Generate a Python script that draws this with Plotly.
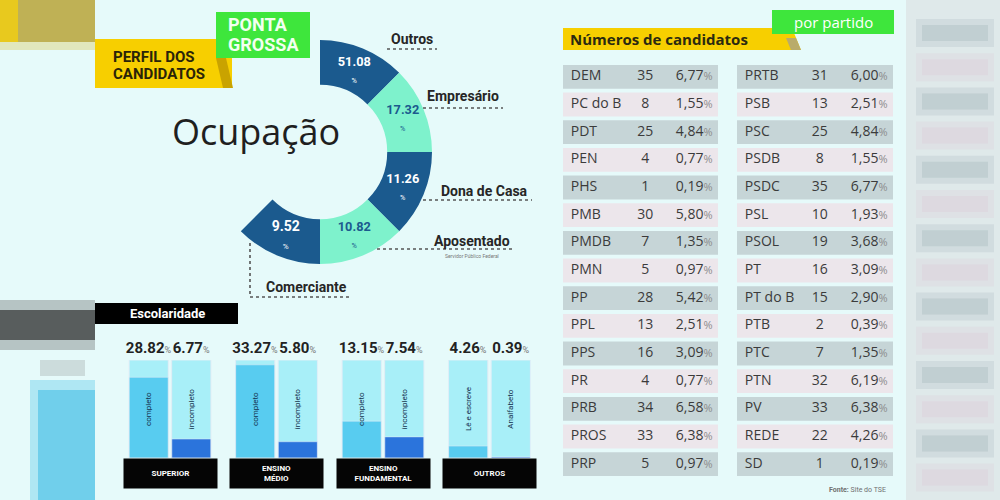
import plotly.graph_objects as go

W, H = 1000, 500


def px(x):
    return x / W


def py(y):
    return 1 - y / H


def path(points):
    s = "M " + " L ".join("%.4f,%.4f" % (px(x), py(y)) for x, y in points)
    return s + " Z"


# ---- Ocupação (anel) ----
occ_labels = ["Outros", "Empresário", "Dona de Casa", "Aposentado", "Comerciante"]
occ_pct = [51.08, 17.32, 11.26, 10.82, 9.52]
# no infográfico as fatias têm todas o mesmo tamanho (5/8 do anel)
ring_slots = [1, 1, 1, 1, 1, 3]

# ---- Escolaridade ----
esc_groups = ["SUPERIOR", "ENSINO<br>MÉDIO", "ENSINO<br>FUNDAMENTAL", "OUTROS"]
esc_a_pct = [28.82, 33.27, 13.15, 4.26]
esc_a_lbl = ["completo", "completo", "completo", "Lê e escreve"]
esc_b_pct = [6.77, 5.80, 7.54, 0.39]
esc_b_lbl = ["incompleto", "incompleto", "incompleto", "Analfabeto"]
TRACK = 35

# ---- Números de candidatos por partido ----
party_l = ["DEM", "PC do B", "PDT", "PEN", "PHS", "PMB", "PMDB", "PMN",
           "PP", "PPL", "PPS", "PR", "PRB", "PROS", "PRP"]
count_l = [35, 8, 25, 4, 1, 30, 7, 5, 28, 13, 16, 4, 34, 33, 5]
pct_l = [6.77, 1.55, 4.84, 0.77, 0.19, 5.80, 1.35, 0.97,
         5.42, 2.51, 3.09, 0.77, 6.58, 6.38, 0.97]
party_r = ["PRTB", "PSB", "PSC", "PSDB", "PSDC", "PSL", "PSOL", "PT",
           "PT do B", "PTB", "PTC", "PTN", "PV", "REDE", "SD"]
count_r = [31, 13, 25, 8, 35, 10, 19, 16, 15, 2, 7, 32, 33, 22, 1]
pct_r = [6.00, 2.51, 4.84, 1.55, 6.77, 1.93, 3.68, 3.09,
         2.90, 0.39, 1.35, 6.19, 6.38, 4.26, 0.19]

BG = "#e6fafa"
DARK = "#1b5a8e"
MINT = "#7ef2cc"
TXT = "#3b3b3b"

fig = go.Figure()

# anel
ring_cols = [DARK, MINT, DARK, MINT, DARK, "rgba(0,0,0,0)"]
ring_txtcol = ["white", DARK, "white", DARK, "white", "white"]
ring_text = ["<b>%.2f</b><br><span style='font-size:8px'>%%</span>" % v for v in occ_pct] + [""]
fig.add_trace(go.Pie(
    values=ring_slots, sort=False, direction="clockwise", rotation=0,
    hole=0.6, marker=dict(colors=ring_cols, line=dict(width=0)),
    text=ring_text, textinfo="text", textposition="inside",
    insidetextorientation="horizontal",
    textfont=dict(family="Roboto", size=14, color=ring_txtcol),
    domain=dict(x=[px(208), px(432)], y=[py(264), py(40)]),
    hoverinfo="skip", showlegend=False))

# barras escolaridade
for og, vals, lbls, col in [("a", esc_a_pct, esc_a_lbl, "#58ccf0"),
                            ("b", esc_b_pct, esc_b_lbl, "#2b74dc")]:
    fig.add_trace(go.Bar(
        x=esc_groups, y=[TRACK] * 4, offsetgroup=og, marker_color="#a8eff8",
        text=["<b>%.2f</b><span style='font-size:9px;color:#777'>%%</span>" % v for v in vals],
        textposition="outside", cliponaxis=False, constraintext="none",
        outsidetextfont=dict(family="Roboto", size=15, color="#222"),
        hoverinfo="skip", showlegend=False))
    fig.add_trace(go.Bar(
        x=esc_groups, y=vals, offsetgroup=og, marker_color=col,
        hoverinfo="skip", showlegend=False))
    fig.add_trace(go.Bar(
        x=esc_groups, y=[TRACK] * 4, offsetgroup=og,
        marker_color="rgba(0,0,0,0)", text=lbls, textposition="inside",
        textangle=-90, insidetextanchor="middle", constraintext="none",
        insidetextfont=dict(family="Roboto", size=8, color="#14324e"),
        hoverinfo="skip", showlegend=False))

# tabelas
row_cols = ["#c6d5d7" if i % 2 == 0 else "#ece6eb" for i in range(15)]
for ax, names, counts, pcts in [("2", party_l, count_l, pct_l),
                               ("3", party_r, count_r, pct_r)]:
    xa, ya = "x" + ax, "y" + ax
    fig.add_trace(go.Bar(
        y=names, x=[1] * len(names), orientation="h", width=0.86,
        marker=dict(color=row_cols, line=dict(width=0)),
        xaxis=xa, yaxis=ya, hoverinfo="skip", showlegend=False))
    fig.add_trace(go.Scatter(
        y=names, x=[0.05] * len(names), mode="text", text=names,
        textposition="middle right",
        textfont=dict(family="Open Sans", size=14, color=TXT),
        xaxis=xa, yaxis=ya, hoverinfo="skip", showlegend=False))
    fig.add_trace(go.Scatter(
        y=names, x=[0.53] * len(names), mode="text", text=[str(c) for c in counts],
        textposition="middle center",
        textfont=dict(family="Open Sans", size=14, color=TXT),
        xaxis=xa, yaxis=ya, hoverinfo="skip", showlegend=False))
    fig.add_trace(go.Scatter(
        y=names, x=[0.965] * len(names), mode="text",
        text=[("%.2f" % p).replace(".", ",") +
              "<span style='font-size:11px;color:#8c8c8c'>%</span>" for p in pcts],
        textposition="middle left",
        textfont=dict(family="Open Sans", size=14, color=TXT),
        xaxis=xa, yaxis=ya, hoverinfo="skip", showlegend=False))

shapes = []
ann = []

# laterais desfocadas
shapes.append(dict(type="rect", xref="paper", yref="paper", x0=px(906), x1=1,
                   y0=0, y1=1, fillcolor="#dfe9ea", line_width=0, layer="below"))
for i in range(14):
    yc = 33 + i * 34.2
    c = "#b6c7ca" if i % 2 == 0 else "#dcd3dc"
    for pad, op in [(6, 0.35), (0, 0.6)]:
        shapes.append(dict(type="rect", xref="paper", yref="paper",
                           x0=px(922 - pad), x1=px(988 + pad),
                           y0=py(yc + 8 + pad), y1=py(yc - 8 - pad),
                           fillcolor=c, opacity=op, line_width=0, layer="below"))
for (x0, x1, y0, y1, c, op) in [
        (0, 95, 0, 50, "#d8c24a", 0.35), (0, 95, 0, 42, "#b09a2a", 0.7),
        (0, 18, 0, 42, "#f2cf10", 0.8),
        (0, 95, 300, 350, "#4a4a4a", 0.3), (0, 95, 310, 340, "#262626", 0.65),
        (40, 85, 360, 376, "#9aa4a4", 0.35),
        (30, 95, 380, 500, "#5ccbe8", 0.4), (38, 95, 390, 500, "#4fc2e6", 0.65)]:
    shapes.append(dict(type="rect", xref="paper", yref="paper", x0=px(x0), x1=px(x1),
                       y0=py(y1), y1=py(y0), fillcolor=c, opacity=op,
                       line_width=0, layer="below"))

# cabeçalho esquerdo
shapes.append(dict(type="rect", xref="paper", yref="paper", x0=px(95), x1=px(232),
                   y0=py(88), y1=py(39), fillcolor="#f7cf00", line_width=0))
shapes.append(dict(type="path", xref="paper", yref="paper",
                   path=path([(216, 58), (226, 58), (233, 88), (223, 88)]),
                   fillcolor="#c9a300", line_width=0))
shapes.append(dict(type="rect", xref="paper", yref="paper", x0=px(216), x1=px(310),
                   y0=py(58), y1=py(12), fillcolor="#3ee63c", line_width=0))
for txt, y in [("PERFIL DOS", 57), ("CANDIDATOS", 74)]:
    ann.append(dict(text="<b>%s</b>" % txt, x=px(111), y=py(y), xanchor="left",
                    font=dict(family="Roboto", size=15, color="#2a2408")))
for txt, y in [("PONTA", 24), ("GROSSA", 45)]:
    ann.append(dict(text="<b>%s</b>" % txt, x=px(226), y=py(y), xanchor="left",
                    font=dict(family="Roboto", size=18, color="#f2fff0")))
ann.append(dict(text="Ocupação", x=px(256), y=py(131),
                font=dict(family="Open Sans", size=36, color="#1f1f1f")))

# rótulos do anel
lab_pos = [(412, 39), (463, 96), (484, 191), (472, 241), (306, 287)]
for lab, (x, y) in zip(occ_labels, lab_pos):
    ann.append(dict(text="<b>%s</b>" % lab, x=px(x), y=py(y),
                    font=dict(family="Roboto", size=14, color="#262626")))
ann.append(dict(text="Servidor Público Federal", x=px(472), y=py(256),
                font=dict(family="Roboto", size=5, color="#777")))
for (x0, y0, x1, y1) in [(387, 49, 437, 49), (423, 108, 503, 108),
                         (423, 200, 532, 200), (377, 249, 513, 249),
                         (250, 243, 250, 297), (250, 297, 352, 297)]:
    shapes.append(dict(type="line", xref="paper", yref="paper", x0=px(x0), x1=px(x1),
                       y0=py(y0), y1=py(y1), line=dict(color="#555", width=1.6, dash="dot")))

# escolaridade
shapes.append(dict(type="rect", xref="paper", yref="paper", x0=px(95), x1=px(238),
                   y0=py(324), y1=py(303), fillcolor="#000", line_width=0))
ann.append(dict(text="<b>Escolaridade</b>", x=px(167), y=py(313.5),
                font=dict(family="Roboto", size=13, color="white")))
for g in esc_groups:
    ann.append(dict(text="<b>%s</b>" % g, x=g, xref="x", y=py(473.5), yref="paper",
                    width=93, height=29, bgcolor="#050505", borderpad=0,
                    font=dict(family="Roboto", size=8, color="white")))

# cabeçalho direito
shapes.append(dict(type="path", xref="paper", yref="paper",
                   path=path([(563, 28), (792, 28), (801, 50), (563, 50)]),
                   fillcolor="#f7cf00", line_width=0))
shapes.append(dict(type="path", xref="paper", yref="paper",
                   path=path([(786, 38), (796, 38), (801, 50), (791, 50)]),
                   fillcolor="#b9ab6a", line_width=0))
shapes.append(dict(type="rect", xref="paper", yref="paper", x0=px(772), x1=px(894),
                   y0=py(34), y1=py(10), fillcolor="#3ee63c", line_width=0))
ann.append(dict(text="<b>Números de candidatos</b>", x=px(568), y=py(39.5),
                xanchor="left", font=dict(family="Open Sans", size=15, color="#2a2a10")))
ann.append(dict(text="por partido", x=px(833), y=py(21.5),
                font=dict(family="Open Sans", size=15, color="white")))
ann.append(dict(text="<b>Fonte:</b> Site do TSE", x=px(888), y=py(489.5), xanchor="right",
                font=dict(family="Roboto", size=7, color="#707070")))

for a in ann:
    a.setdefault("xref", "paper")
    a.setdefault("yref", "paper")
    a.setdefault("xanchor", "center")
    a.setdefault("yanchor", "middle")
    a["showarrow"] = False

hidden = dict(showgrid=False, zeroline=False, showticklabels=False, showline=False,
              ticks="", fixedrange=True)
fig.update_layout(
    width=W, height=H, margin=dict(l=0, r=0, t=0, b=0),
    paper_bgcolor=BG, plot_bgcolor="rgba(0,0,0,0)",
    barmode="group", bargap=0.2, bargroupgap=0.08,
    showlegend=False, shapes=shapes, annotations=ann,
    xaxis=dict(domain=[px(116.75), px(542.75)], type="category",
               range=[-0.5, 3.5], **hidden),
    yaxis=dict(domain=[py(458), py(360)], range=[0, TRACK], **hidden),
    xaxis2=dict(domain=[px(563), px(718)], range=[0, 1], anchor="y2", **hidden),
    yaxis2=dict(domain=[py(478), py(63)], type="category", range=[14.5, -0.5],
                anchor="x2", **hidden),
    xaxis3=dict(domain=[px(737), px(893)], range=[0, 1], anchor="y3", **hidden),
    yaxis3=dict(domain=[py(478), py(63)], type="category", range=[14.5, -0.5],
                anchor="x3", **hidden),
)

fig.write_html("out.html", config={"displayModeBar": False},
               post_script="document.body.style.margin='0';")
